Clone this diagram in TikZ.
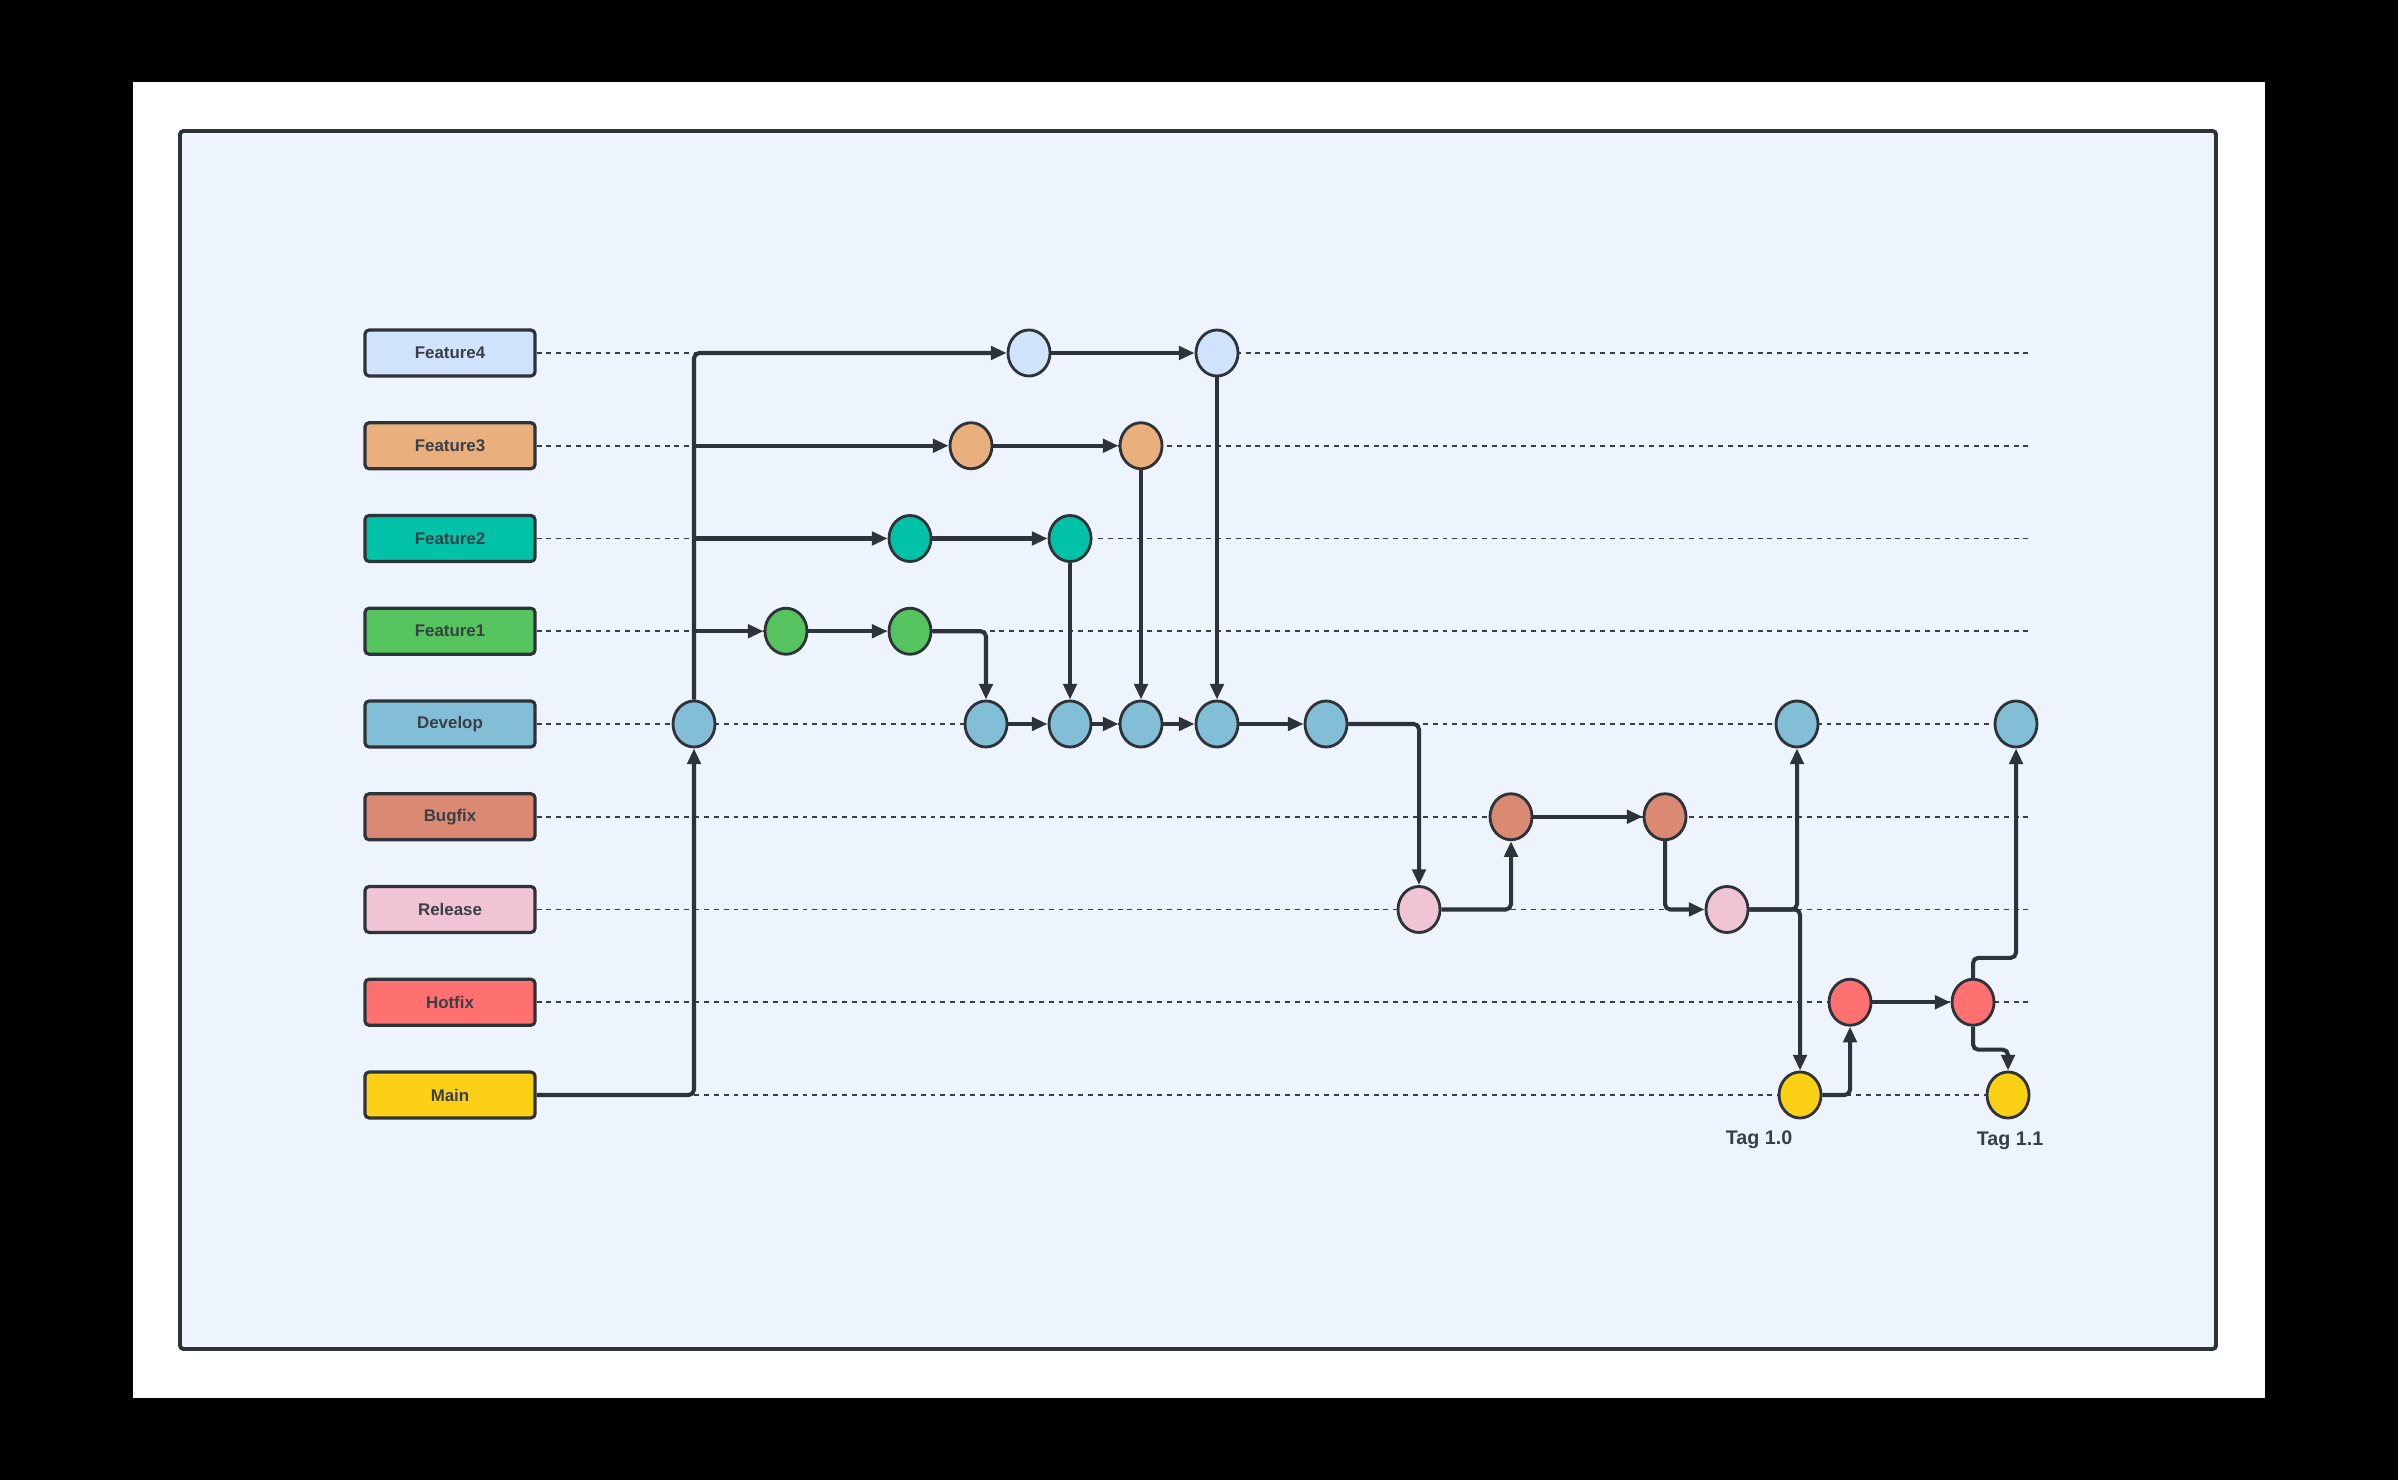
\documentclass[tikz,border=0pt]{standalone}
\usepackage{fontspec}
\setmainfont{Liberation Sans}
\usetikzlibrary{shapes.geometric,arrows.meta}
\definecolor{linec}{HTML}{2E3339}
\definecolor{txtc}{HTML}{3A3F47}
\definecolor{dotc}{HTML}{3A3F47}
\definecolor{panelc}{HTML}{EDF4FE}
\definecolor{cfa}{HTML}{CFE3FD}
\definecolor{cfb}{HTML}{E9B07D}
\definecolor{cfc}{HTML}{00C2A8}
\definecolor{cfd}{HTML}{55C45E}
\definecolor{cdev}{HTML}{82BFD6}
\definecolor{cbug}{HTML}{DA8972}
\definecolor{crel}{HTML}{F1C4D5}
\definecolor{chot}{HTML}{FF7070}
\definecolor{cmain}{HTML}{FCD015}
\tikzset{
  lab/.style={draw=linec, line width=0.9pt, rounded corners=1.2pt, minimum width=1.7cm, minimum height=0.46cm, inner sep=0pt, font=\fontsize{4.8}{5.8}\selectfont\bfseries, text=txtc},
  cmt/.style={ellipse, draw=linec, line width=0.8pt, minimum width=0.42cm, minimum height=0.46cm, inner sep=0pt},
  conn/.style={draw=linec, line width=1.15pt, rounded corners=1.5pt, -{Triangle[length=4.5pt,width=3.8pt]}},
  dotline/.style={draw=dotc, line width=0.45pt, dash pattern=on 1.4pt off 1.4pt},
  tag/.style={font=\fontsize{5.6}{6.6}\selectfont\bfseries, text=txtc, inner sep=0pt}
}
\begin{document}
\begin{tikzpicture}[x=0.01cm,y=-0.01cm]
\useasboundingbox (0,0) rectangle (2398,1480);
\fill[black] (0,0) rectangle (2398,1480);
\fill[white] (133,82) rectangle (2265,1398);
\draw[draw=linec, fill=panelc, line width=1.1pt, rounded corners=1pt] (180,131) rectangle (2216,1349);

% branch labels
\node[lab, fill=cfa] (lf4) at (450,353) {Feature4};
\node[lab, fill=cfb] (lf3) at (450,445.75) {Feature3};
\node[lab, fill=cfc] (lf2) at (450,538.5) {Feature2};
\node[lab, fill=cfd] (lf1) at (450,631.25) {Feature1};
\node[lab, fill=cdev] (ldev) at (450,724) {Develop};
\node[lab, fill=cbug] (lbug) at (450,816.75) {Bugfix};
\node[lab, fill=crel] (lrel) at (450,909.5) {Release};
\node[lab, fill=chot] (lhot) at (450,1002.25) {Hotfix};
\node[lab, fill=cmain] (lmain) at (450,1095) {Main};

% end points of the dotted lines
\coordinate (ef4) at (2031,353);
\coordinate (ef3) at (2031,445.75);
\coordinate (ef2) at (2031,538.5);
\coordinate (ef1) at (2031,631.25);
\coordinate (edev) at (2031,724);
\coordinate (ebug) at (2031,816.75);
\coordinate (erel) at (2031,909.5);
\coordinate (ehot) at (2031,1002.25);
\coordinate (emain) at (2031,1095);
\foreach \a/\b in {lf4/ef4,lf3/ef3,lf2/ef2,lf1/ef1,ldev/edev,lbug/ebug,lrel/erel,lhot/ehot,lmain/emain}
  \draw[dotline] (\a.east) -- (\b);

% commits
\node[cmt, fill=cfa] (f4a) at (1029,353) {};
\node[cmt, fill=cfa] (f4b) at (1217,353) {};
\node[cmt, fill=cfb] (f3a) at (971,445.75) {};
\node[cmt, fill=cfb] (f3b) at (1141,445.75) {};
\node[cmt, fill=cfc] (f2a) at (910,538.5) {};
\node[cmt, fill=cfc] (f2b) at (1070,538.5) {};
\node[cmt, fill=cfd] (f1a) at (786,631.25) {};
\node[cmt, fill=cfd] (f1b) at (910,631.25) {};
\node[cmt, fill=cdev] (d0) at (694,724) {};
\node[cmt, fill=cdev] (d1) at (986,724) {};
\node[cmt, fill=cdev] (d2) at (1070,724) {};
\node[cmt, fill=cdev] (d3) at (1141,724) {};
\node[cmt, fill=cdev] (d4) at (1217,724) {};
\node[cmt, fill=cdev] (d5) at (1326,724) {};
\node[cmt, fill=cdev] (d6) at (1797,724) {};
\node[cmt, fill=cdev] (d7) at (2016,724) {};
\node[cmt, fill=cbug] (b1) at (1511,816.75) {};
\node[cmt, fill=cbug] (b2) at (1665,816.75) {};
\node[cmt, fill=crel] (r1) at (1419,909.5) {};
\node[cmt, fill=crel] (r2) at (1727,909.5) {};
\node[cmt, fill=chot] (h1) at (1850,1002.25) {};
\node[cmt, fill=chot] (h2) at (1973,1002.25) {};
\node[cmt, fill=cmain] (m1) at (1800,1095) {};
\node[cmt, fill=cmain] (m2) at (2008,1095) {};

\node[tag] (t1) at (1759,1140) {Tag 1.0};
\node[tag] (t2) at (2010,1141) {Tag 1.1};

% connectors
\draw[conn] (lmain.east) -| (d0.south);
\draw[conn] (d0.north) |- (f4a.west);
\draw[conn] (d0.north |- f3a.west) -- (f3a.west);
\draw[conn] (d0.north |- f2a.west) -- (f2a.west);
\draw[conn] (d0.north |- f1a.west) -- (f1a.west);
\draw[conn] (f4a.east) -- (f4b.west);
\draw[conn] (f3a.east) -- (f3b.west);
\draw[conn] (f2a.east) -- (f2b.west);
\draw[conn] (f1a.east) -- (f1b.west);
\draw[conn] (f4b.south) -- (d4.north);
\draw[conn] (f3b.south) -- (d3.north);
\draw[conn] (f2b.south) -- (d2.north);
\draw[conn] (f1b.east) -| (d1.north);
\draw[conn] (d1.east) -- (d2.west);
\draw[conn] (d2.east) -- (d3.west);
\draw[conn] (d3.east) -- (d4.west);
\draw[conn] (d4.east) -- (d5.west);
\draw[conn] (d5.east) -| (r1.north);
\draw[conn] (r1.east) -| (b1.south);
\draw[conn] (b1.east) -- (b2.west);
\draw[conn] (b2.south) |- (r2.west);
\draw[conn] (r2.east) -| (d6.south);
\draw[conn] (r2.east) -| (m1.north);
\draw[conn] (m1.east) -| (h1.south);
\draw[conn] (h1.east) -- (h2.west);
\draw[conn] (h2.north) -- ++(0,-20) -| (d7.south);
\draw[conn] (h2.south) -- ++(0,23) -| (m2.north);
\end{tikzpicture}
\end{document}
